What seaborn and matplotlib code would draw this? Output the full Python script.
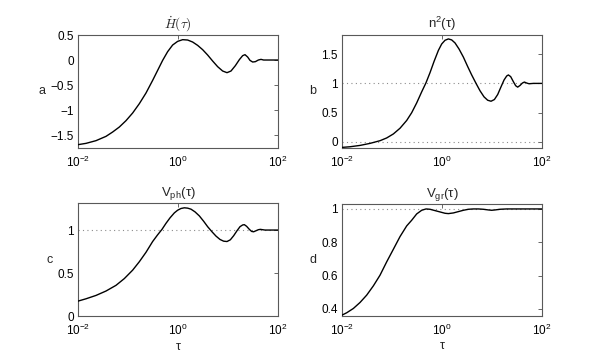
import numpy as np
import pandas as pd
import seaborn as sns
import matplotlib
matplotlib.use('Agg')
import matplotlib.pyplot as plt

# values (x given as log10(tau))
lt_a = [-2.0, -1.84, -1.64, -1.44, -1.307, -1.173, -1.04, -0.907, -0.773, -0.64,
        -0.507, -0.407, -0.307, -0.207, -0.107, -0.007, 0.093, 0.193, 0.293, 0.393,
        0.493, 0.593, 0.693, 0.793, 0.893, 0.98, 1.06, 1.147, 1.227, 1.293,
        1.34, 1.393, 1.44, 1.493, 1.547, 1.607, 1.66, 1.713, 1.793, 2.0]
hdot = [-1.693, -1.667, -1.613, -1.527, -1.44, -1.34, -1.213, -1.06, -0.873, -0.66,
        -0.407, -0.207, -0.007, 0.167, 0.30, 0.373, 0.407, 0.40, 0.36, 0.293,
        0.207, 0.10, -0.02, -0.133, -0.22, -0.253, -0.22, -0.113, 0.007, 0.087,
        0.107, 0.06, -0.007, -0.04, -0.033, 0.0, 0.013, 0.0, 0.0, 0.0]

lt_b = [-2.0, -1.84, -1.64, -1.44, -1.24, -1.107, -0.973, -0.84, -0.707, -0.607,
        -0.507, -0.407, -0.32, -0.24, -0.16, -0.073, -0.007, 0.06, 0.127, 0.193,
        0.26, 0.34, 0.427, 0.513, 0.593, 0.68, 0.76, 0.84, 0.913, 0.98,
        1.047, 1.113, 1.18, 1.24, 1.293, 1.327, 1.373, 1.427, 1.473, 1.513,
        1.56, 1.607, 1.647, 1.693, 1.74, 1.827, 2.0]
n2 = [-0.098, -0.087, -0.064, -0.029, 0.017, 0.064, 0.133, 0.231, 0.364, 0.497,
      0.665, 0.855, 1.012, 1.185, 1.376, 1.566, 1.676, 1.74, 1.763, 1.746,
      1.694, 1.59, 1.451, 1.289, 1.145, 1.0, 0.873, 0.769, 0.711, 0.694,
      0.723, 0.809, 0.942, 1.058, 1.127, 1.145, 1.116, 1.029, 0.96, 0.936,
      0.965, 1.006, 1.023, 1.006, 0.994, 1.0, 1.0]

lt_c = [-2.0, -1.84, -1.64, -1.44, -1.24, -1.073, -0.907, -0.773, -0.64, -0.507,
        -0.407, -0.32, -0.24, -0.16, -0.073, -0.007, 0.06, 0.127, 0.193, 0.26,
        0.34, 0.427, 0.513, 0.593, 0.68, 0.76, 0.84, 0.913, 0.98, 1.047,
        1.113, 1.18, 1.24, 1.293, 1.327, 1.373, 1.427, 1.473, 1.513, 1.56,
        1.607, 1.647, 1.693, 1.74, 2.0]
vph = [0.176, 0.203, 0.242, 0.293, 0.359, 0.4375, 0.535, 0.633, 0.742, 0.867,
       0.945, 1.008, 1.078, 1.141, 1.199, 1.23, 1.25, 1.258, 1.254, 1.242,
       1.211, 1.164, 1.102, 1.039, 0.98, 0.93, 0.891, 0.871, 0.867, 0.887,
       0.934, 0.992, 1.039, 1.059, 1.0625, 1.043, 1.008, 0.984, 0.98, 0.992,
       1.004, 1.008, 1.004, 1.0, 1.0]

lt_d = [-2.0, -1.907, -1.773, -1.64, -1.507, -1.373, -1.24, -1.107, -0.973, -0.84,
        -0.707, -0.607, -0.507, -0.407, -0.32, -0.24, -0.14, -0.04, 0.06, 0.127,
        0.227, 0.327, 0.427, 0.527, 0.627, 0.727, 0.827, 0.927, 0.993, 1.06,
        1.16, 1.293, 2.0]
vgr = [0.362, 0.376, 0.402, 0.438, 0.482, 0.538, 0.602, 0.682, 0.758, 0.834,
       0.898, 0.932, 0.97, 0.992, 1.0, 0.998, 0.99, 0.982, 0.974, 0.972,
       0.976, 0.984, 0.992, 0.998, 1.0, 1.0, 0.998, 0.994, 0.992, 0.994,
       0.998, 1.0, 1.0]

titles = [r'$\dot{H}(\tau)$', 'n$^{2}$(τ)', 'V$_{\\mathrm{ph}}$(τ)', 'V$_{\\mathrm{gr}}$(τ)']
ylabels = ['a', 'b', 'c', 'd']
ylims = [(-1.75, 0.5), (-0.1, 1.83), (0, 1.31), (0.357, 1.03)]
yticks = [[-1.5, -1, -0.5, 0, 0.5], [0, 0.5, 1, 1.5], [0, 0.5, 1], [0.4, 0.6, 0.8, 1]]
yticklabels = [['\u22121.5', '\u22121', '\u22120.5', '0', '0.5'],
               ['0', '0.5', '1', '1.5'], ['0', '0.5', '1'], ['0.4', '0.6', '0.8', '1']]
ref_lines = [[], [0, 1], [1], [1]]

sns.set_theme(style='white')
plt.rcParams['font.family'] = ['Liberation Sans', 'DejaVu Sans']
plt.rcParams['mathtext.fontset'] = 'custom'
plt.rcParams['mathtext.rm'] = 'Liberation Sans'
plt.rcParams['mathtext.it'] = 'Liberation Sans:italic'

fig = plt.figure(figsize=(5.99, 3.57), dpi=100)
boxes = [[0.1302, 0.5868, 0.3339, 0.3151], [0.571, 0.5868, 0.3339, 0.3151],
         [0.1302, 0.114, 0.3339, 0.3165], [0.571, 0.115, 0.3339, 0.3137]]

series = [(lt_a, hdot), (lt_b, n2), (lt_c, vph), (lt_d, vgr)]

for i, (lt, vals) in enumerate(series):
    ax = fig.add_axes(boxes[i])
    df = pd.DataFrame({'tau': 10 ** np.array(lt), 'val': vals})
    for yv in ref_lines[i]:
        ax.axhline(yv, color='0.55', linestyle=(0, (1, 3)), linewidth=0.8, zorder=1)
    sns.lineplot(data=df, x='tau', y='val', ax=ax, color='black', linewidth=1.0,
                 estimator=None, sort=False, zorder=3)
    ax.set_xscale('log')
    ax.set_xlim(1e-2, 1e2)
    ax.set_xticks([1e-2, 1e0, 1e2])
    ax.minorticks_off()
    ax.set_ylim(*ylims[i])
    ax.set_yticks(yticks[i])
    ax.set_yticklabels(yticklabels[i])
    ax.tick_params(direction='in', length=3, width=0.6, top=True, right=True,
                   labelsize=8.5, colors='0.3', labelcolor='black')
    ax.tick_params(axis='x', pad=5)
    ax.tick_params(axis='y', pad=3)
    for sp in ax.spines.values():
        sp.set_color('0.35')
        sp.set_linewidth(0.8)
    if i == 0:
        ax.set_title(titles[i], fontsize=9.5, pad=5, math_fontfamily='cm')
    else:
        ax.set_title(titles[i], fontsize=9.5, pad=5)
    ax.set_ylabel(ylabels[i], rotation=0, fontsize=9, va='center', ha='right', labelpad=3.5)
    if i >= 2:
        ax.set_xlabel('τ', fontsize=9, labelpad=1.5)
    else:
        ax.set_xlabel('')

fig.savefig('out.png', dpi=100, facecolor='white')
